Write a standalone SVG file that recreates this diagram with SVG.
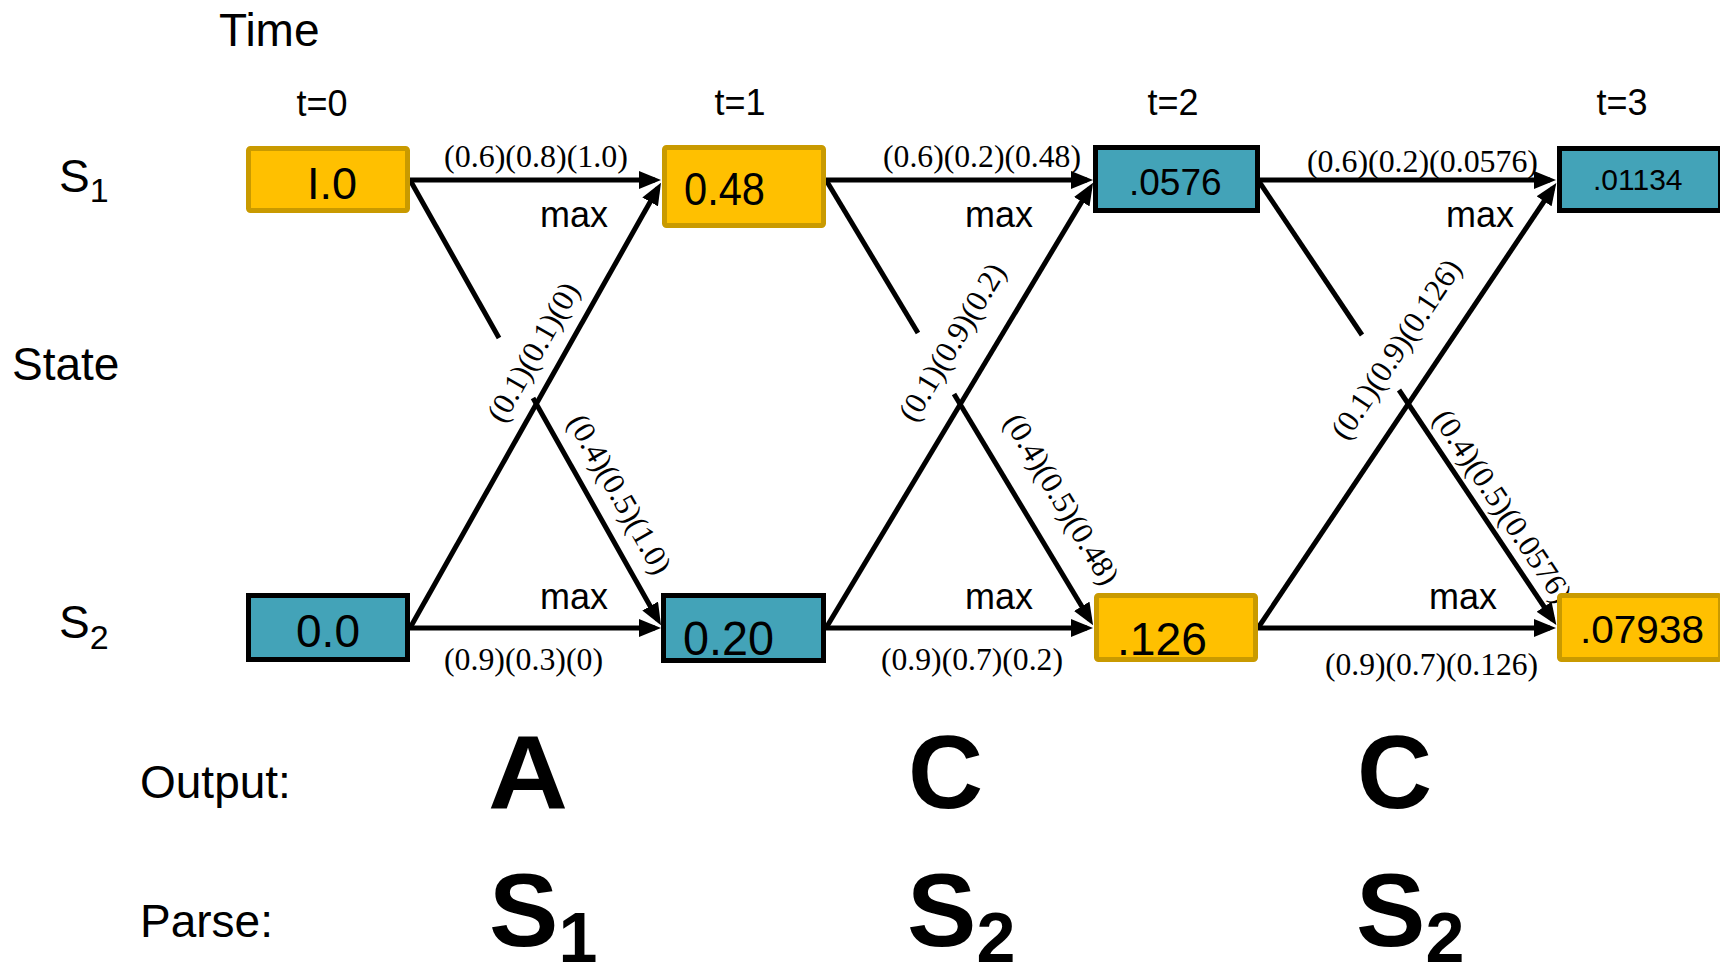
<svg xmlns="http://www.w3.org/2000/svg" width="1720" height="977" viewBox="0 0 1720 977">
<defs>
<style>
.sans{font-family:"Liberation Sans",Arial,sans-serif;fill:#000}
.serif{font-family:"Liberation Serif","Times New Roman",serif;fill:#000;font-size:31px}
.lab{font-size:46px}
.tl{font-size:36px;text-anchor:middle}
.big{font-size:104px;font-weight:bold}
.gold{fill:#FFC000;stroke:#C99A00;stroke-width:5}
.teal{fill:#43A3B8;stroke:#000;stroke-width:5}
.edge{stroke:#000;stroke-width:5;fill:none}
.arr{marker-end:url(#ah)}
.rot{text-anchor:middle;dominant-baseline:central}
</style>
<marker id="ah" markerUnits="userSpaceOnUse" markerWidth="22" markerHeight="18" viewBox="0 0 22 18" refX="16" refY="9" orient="auto">
<path d="M0,0 L22,9 L0,18 z" fill="#000"/>
</marker>
</defs>
<rect width="1720" height="977" fill="#fff"/>

<g id="axis-labels">
<text class="sans lab" x="219" y="46" font-size="47">Time</text>
<text class="sans lab" x="12" y="380">State</text>
<text class="sans lab" x="59" y="192">S<tspan font-size="34" y="202">1</tspan></text>
<text class="sans lab" x="59" y="638">S<tspan font-size="34" y="649">2</tspan></text>
<text class="sans tl" x="322" y="116">t=0</text>
<text class="sans tl" x="740" y="115">t=1</text>
<text class="sans tl" x="1173" y="115">t=2</text>
<text class="sans tl" x="1622" y="115">t=3</text>
</g>

<g id="connectors">
<line class="edge arr" x1="410" y1="180" x2="655" y2="180"/>
<line class="edge arr" x1="410" y1="628" x2="655" y2="628"/>
<line class="edge arr" x1="410" y1="628" x2="658" y2="188"/>
<line class="edge" x1="410" y1="180" x2="499" y2="338"/>
<line class="edge arr" x1="533" y1="398" x2="658" y2="620"/>

<line class="edge arr" x1="826" y1="180" x2="1087" y2="180"/>
<line class="edge arr" x1="826" y1="628" x2="1087" y2="628"/>
<line class="edge arr" x1="826" y1="628" x2="1090" y2="188"/>
<line class="edge" x1="826" y1="180" x2="918" y2="333"/>
<line class="edge arr" x1="954" y1="394" x2="1090" y2="620"/>

<line class="edge arr" x1="1258" y1="180" x2="1550" y2="180"/>
<line class="edge arr" x1="1258" y1="628" x2="1550" y2="628"/>
<line class="edge arr" x1="1258" y1="628" x2="1553" y2="188"/>
<line class="edge" x1="1258" y1="180" x2="1362" y2="335"/>
<line class="edge arr" x1="1399" y1="390" x2="1553" y2="620"/>
</g>

<g id="edge-labels">
<text class="serif" x="444" y="167" textLength="184" lengthAdjust="spacingAndGlyphs">(0.6)(0.8)(1.0)</text>
<text class="serif" x="883" y="167" textLength="198" lengthAdjust="spacingAndGlyphs">(0.6)(0.2)(0.48)</text>
<text class="serif" x="1307" y="172" textLength="231" lengthAdjust="spacingAndGlyphs">(0.6)(0.2)(0.0576)</text>
<text class="serif" x="444" y="670" textLength="159" lengthAdjust="spacingAndGlyphs">(0.9)(0.3)(0)</text>
<text class="serif" x="881" y="670" textLength="182" lengthAdjust="spacingAndGlyphs">(0.9)(0.7)(0.2)</text>
<text class="serif" x="1325" y="675" textLength="213" lengthAdjust="spacingAndGlyphs">(0.9)(0.7)(0.126)</text>
<text class="serif rot" transform="translate(533,352) rotate(-60.4)">(0.1)(0.1)(0)</text>
<text class="serif rot" transform="translate(952,342) rotate(-59)">(0.1)(0.9)(0.2)</text>
<text class="serif rot" transform="translate(1396,349) rotate(-56.3)">(0.1)(0.9)(0.126)</text>
<text class="serif rot" transform="translate(620,494) rotate(60.4)">(0.4)(0.5)(1.0)</text>
<text class="serif rot" transform="translate(1062,499) rotate(59)">(0.4)(0.5)(0.48)</text>
<text class="serif rot" transform="translate(1503,506) rotate(56.3)">(0.4)(0.5)(0.0576)</text>
<text class="sans" font-size="36" x="540" y="227">max</text>
<text class="sans" font-size="36" x="965" y="227">max</text>
<text class="sans" font-size="36" x="1446" y="227">max</text>
<text class="sans" font-size="36" x="540" y="609">max</text>
<text class="sans" font-size="36" x="965" y="609">max</text>
<text class="sans" font-size="36" x="1429" y="609">max</text>
</g>

<g id="n-s1-t0">
<rect class="gold" x="248.5" y="148.5" width="159" height="62" rx="2"/>
<text class="sans" font-size="45" x="332" y="199" text-anchor="middle">I.0</text>
</g>
<g id="n-s2-t0">
<rect class="teal" x="248.5" y="595.5" width="159" height="64"/>
<text class="sans" font-size="46" x="328" y="647" text-anchor="middle">0.0</text>
</g>
<g id="n-s1-t1">
<rect class="gold" x="664.5" y="147.5" width="159" height="78" rx="2"/>
<text class="sans" font-size="46" x="684" y="205" textLength="81" lengthAdjust="spacingAndGlyphs">0.48</text>
</g>
<g id="n-s2-t1">
<rect class="teal" x="663.5" y="595.5" width="160" height="65"/>
<text class="sans" font-size="48" x="683" y="655" textLength="91" lengthAdjust="spacingAndGlyphs">0.20</text>
</g>
<g id="n-s1-t2">
<rect class="teal" x="1095.5" y="147.5" width="162" height="63"/>
<text class="sans" font-size="37" x="1129" y="195">.0576</text>
</g>
<g id="n-s2-t2">
<rect class="gold" x="1096.5" y="595.5" width="159" height="64" rx="2"/>
<text class="sans" font-size="47" x="1117" y="655" textLength="90" lengthAdjust="spacingAndGlyphs">.126</text>
</g>
<g id="n-s1-t3">
<rect class="teal" x="1559.5" y="148.5" width="161" height="62"/>
<text class="sans" font-size="30" x="1593" y="190">.01134</text>
</g>
<g id="n-s2-t3">
<rect class="gold" x="1559.5" y="595.5" width="161" height="64" rx="2"/>
<text class="sans" font-size="39" x="1580" y="643" textLength="124" lengthAdjust="spacingAndGlyphs">.07938</text>
</g>

<g id="output-parse">
<text class="sans lab" x="140" y="798">Output:</text>
<text class="sans lab" x="140" y="937">Parse:</text>
<text class="sans big" x="488" y="808" textLength="80" lengthAdjust="spacingAndGlyphs">A</text>
<text class="sans big" x="908" y="808">C</text>
<text class="sans big" x="1357" y="808">C</text>
<text class="sans big" x="489" y="946">S<tspan font-size="70" y="962">1</tspan></text>
<text class="sans big" x="907" y="946">S<tspan font-size="70" y="962">2</tspan></text>
<text class="sans big" x="1356" y="946">S<tspan font-size="70" y="962">2</tspan></text>
</g>
</svg>
